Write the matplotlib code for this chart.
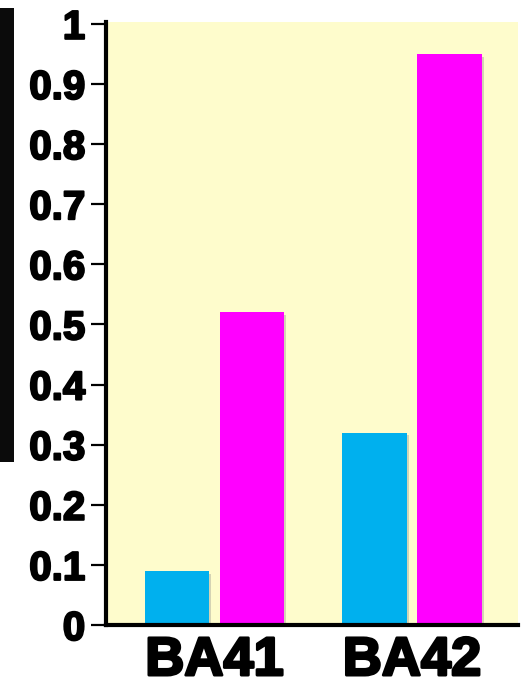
import matplotlib
matplotlib.use("Agg")
import matplotlib.pyplot as plt
import matplotlib.patheffects as pe
from matplotlib.patches import Rectangle
import numpy as np

categories = ["BA41", "BA42"]
series_a = [0.09, 0.32]   # cyan bars
series_b = [0.52, 0.95]   # magenta bars
yticks = [0, 0.1, 0.2, 0.3, 0.4, 0.5, 0.6, 0.7, 0.8, 0.9, 1]
ytick_labels = ["0", "0.1", "0.2", "0.3", "0.4", "0.5", "0.6", "0.7", "0.8", "0.9", "1"]

fig = plt.figure(figsize=(5.22, 6.85), dpi=100)
fig.patch.set_facecolor("white")

# dark vertical strip at the left edge
fig.patches.append(Rectangle((0, 1 - 462 / 685), 14 / 522, (462 - 8) / 685,
                             transform=fig.transFigure, facecolor="#0b0b0b",
                             edgecolor="none", zorder=0))

ax = fig.add_axes([106 / 522, 60 / 685, 412 / 522, 603 / 685])
ax.set_facecolor("#fefccc")

x = np.arange(len(categories))
w = 0.325
off = 0.19
shadow = [pe.SimplePatchShadow(offset=(1.5, -2), shadow_rgbFace="#888888", alpha=0.35), pe.Normal()]
ax.bar(x - off, series_a, width=w, color="#00b0ee", zorder=3, path_effects=shadow)
ax.bar(x + off, series_b, width=w, color="#ff00ff", zorder=3, path_effects=shadow)

ax.set_xlim(-0.549, 1.537)
ax.set_ylim(0, 1.003)

for s in ["top", "right"]:
    ax.spines[s].set_visible(False)
for s in ["left", "bottom"]:
    ax.spines[s].set_linewidth(3)
    ax.spines[s].set_color("black")
    ax.spines[s].set_zorder(5)

ax.set_yticks(yticks)
ax.set_yticklabels(ytick_labels)
ax.tick_params(axis="y", length=11, width=1.6, pad=4, labelsize=29)
ax.set_xticks(x)
ax.set_xticklabels(categories)
ax.tick_params(axis="x", length=0, pad=8, labelsize=39)

for lab in ax.get_yticklabels():
    lab.set_fontfamily("Liberation Sans")
    lab.set_fontweight("bold")
    lab.set_path_effects([pe.withStroke(linewidth=1.5, foreground="black")])
for lab in ax.get_xticklabels():
    lab.set_fontfamily("Liberation Sans")
    lab.set_fontweight("bold")
    lab.set_path_effects([pe.withStroke(linewidth=2.0, foreground="black")])

fig.savefig("out.png", dpi=100, facecolor="white")
